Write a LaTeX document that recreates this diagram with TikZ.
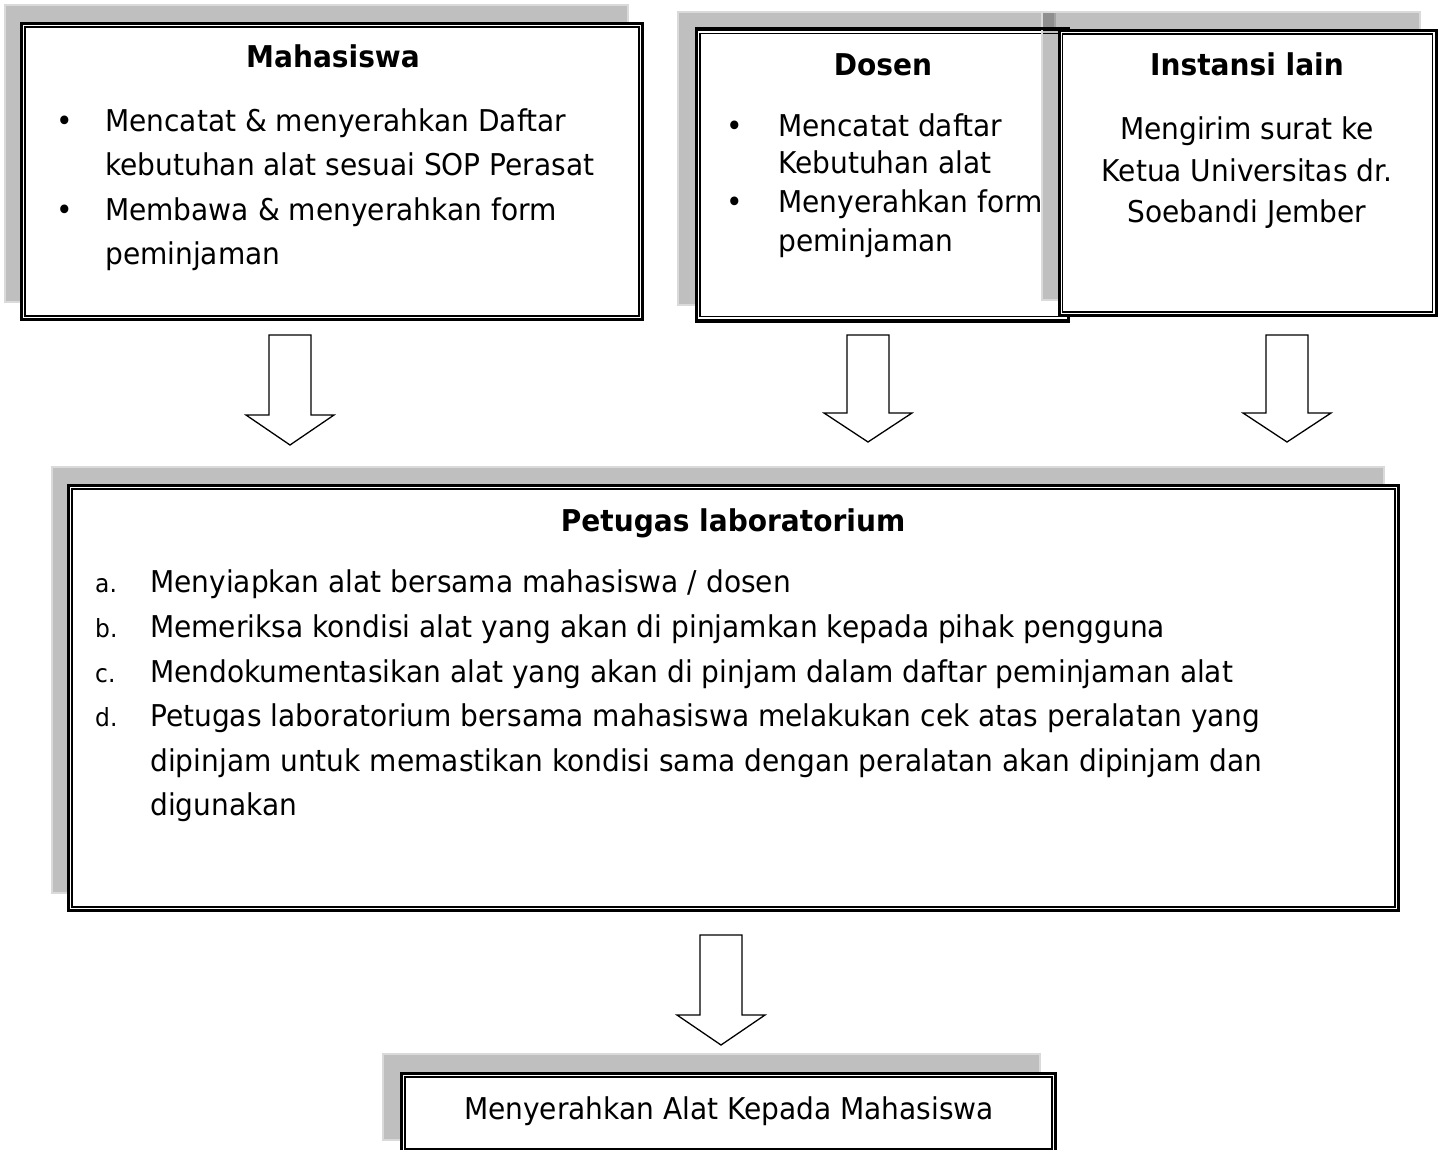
\documentclass[tikz,border=0pt]{standalone}
\usepackage{fontspec}
\setmainfont{DejaVu Sans}[FakeStretch=0.935]
\definecolor{shedge}{HTML}{DADADA}
\begin{document}
\begin{tikzpicture}[x=1pt,y=-1pt,
  shadowrect/.style={fill=black,fill opacity=0.25,draw=shedge,draw opacity=1,line width=1.5},
  mainbox/.style={draw,fill=white,line width=3,inner sep=0,rectangle},
  innerline/.style={draw,line width=1.3},
  blockarrow/.style={draw,fill=white,line width=1.3,line join=miter},
  txt/.style={inner sep=0,anchor=base west,font=\fontsize{30}{36}\selectfont},
  ttl/.style={inner sep=0,anchor=base,font=\fontsize{30}{36}\selectfont\bfseries},
  ctr/.style={inner sep=0,anchor=base,font=\fontsize{30}{36}\selectfont},
  lettr/.style={inner sep=0,anchor=base west,font=\fontsize{25}{30}\selectfont}]
\useasboundingbox (0,0) rectangle (1442,1150);
\fill[white] (0,0) rectangle (1442,1150);
\newcommand\innerfrm[1]{\draw[innerline] ([shift={(5,5)}]#1.north west) rectangle ([shift={(-5,-5)}]#1.south east);}
\newcommand\blockarr[4]{\draw[blockarrow] (#1-21,#2) -- (#1+21,#2) -- (#1+21,#3) -- (#1+44,#3) -- (#1,#4) -- (#1-44,#3) -- (#1-21,#3) -- cycle;}

% Mahasiswa
\draw[shadowrect] (5,5) rectangle (628,302);
\node[mainbox,minimum width=621,minimum height=296] (mah) at (332,171.5) {};
\innerfrm{mah}
\node[ttl] (mahT) at (333,68) {Mahasiswa};
\node[txt] (mahB1) at (56,132) {•};
\node[txt] (mah1) at (105,132) {Mencatat \& menyerahkan Daftar};
\node[txt] (mah2) at (105,176) {kebutuhan alat sesuai SOP Perasat};
\node[txt] (mahB2) at (56,221) {•};
\node[txt] (mah3) at (105,221) {Membawa \& menyerahkan form};
\node[txt] (mah4) at (105,265) {peminjaman};

% Dosen
\draw[shadowrect] (678,12) rectangle (1055,305);
\node[mainbox,minimum width=372,minimum height=290] (dos) at (882.5,175) {};
\innerfrm{dos}
\node[ttl] (dosT) at (883,76) {Dosen};
\node[txt] (dosB1) at (726,137) {•};
\node[txt] (dos1) at (778,137) {Mencatat daftar};
\node[txt] (dos2) at (778,174) {Kebutuhan alat};
\node[txt] (dosB2) at (726,213) {•};
\node[txt] (dos3) at (778,213) {Menyerahkan form};
\node[txt] (dos4) at (778,252) {peminjaman};

% Instansi
\draw[shadowrect] (1042,12) rectangle (1420,300);
\node[mainbox,minimum width=377,minimum height=285] (ins) at (1247.5,173) {};
\innerfrm{ins}
\draw[line width=3] (dos.north west) -- (dos.north east);
\draw[line width=3] (dos.south west) -- (dos.south east);
\node[ttl] (insT) at (1247,76) {Instansi lain};
\node[ctr] (ins1) at (1247,140) {Mengirim surat ke};
\node[ctr] (ins2) at (1247,182) {Ketua Universitas dr.};
\node[ctr] (ins3) at (1247,223) {Soebandi Jember};

% arrows
\blockarr{290}{335}{415}{445}
\blockarr{868}{335}{413}{442}
\blockarr{1287}{335}{413}{442}

% Petugas
\draw[shadowrect] (52,467) rectangle (1384,893);
\node[mainbox,minimum width=1330,minimum height=425] (pet) at (733.5,698) {};
\innerfrm{pet}
\node[ttl] (petT) at (733,531) {Petugas laboratorium};
\node[lettr] (pa) at (95,592) {a.};
\node[txt] (p1) at (150,592) {Menyiapkan alat bersama mahasiswa / dosen};
\node[lettr] (pb) at (95,637) {b.};
\node[txt] (p2) at (150,637) {Memeriksa kondisi alat yang akan di pinjamkan kepada pihak pengguna};
\node[lettr] (pc) at (95,682) {c.};
\node[txt] (p3) at (150,682) {Mendokumentasikan alat yang akan di pinjam dalam daftar peminjaman alat};
\node[lettr] (pd) at (95,726) {d.};
\node[txt] (p4) at (150,726) {Petugas laboratorium bersama mahasiswa melakukan cek atas peralatan yang};
\node[txt] (p5) at (150,771) {dipinjam untuk memastikan kondisi sama dengan peralatan akan dipinjam dan};
\node[txt] (p6) at (150,815) {digunakan};

\blockarr{721}{935}{1015}{1045}

% Final
\draw[shadowrect] (383,1054) rectangle (1040,1140);
\node[mainbox,minimum width=654,minimum height=79] (fin) at (728.5,1113) {};
\innerfrm{fin}
\node[ctr] (finT) at (729,1119) {Menyerahkan Alat Kepada Mahasiswa};
\end{tikzpicture}
\end{document}
